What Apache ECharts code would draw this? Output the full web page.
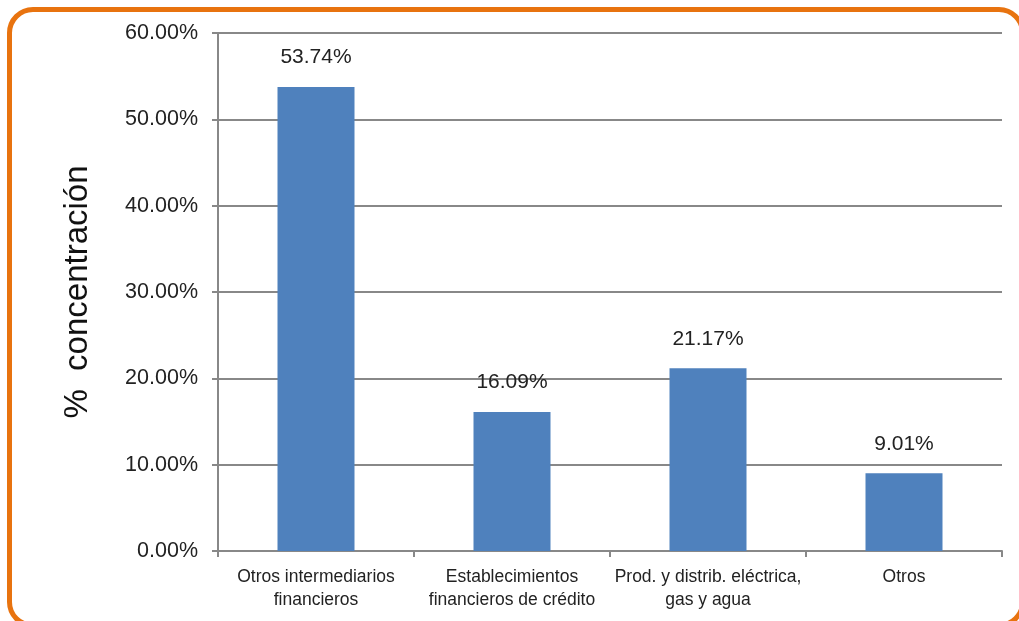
<!DOCTYPE html>
<html>
<head>
<meta charset="utf-8">
<script src="https://cdn.jsdelivr.net/npm/echarts@6/dist/echarts.min.js"></script>
<style>
  html, body { margin: 0; padding: 0; background: #fff; overflow: hidden; }
  #frame { position: absolute; left: 7px; top: 7px; width: 1018px; height: 621px; border: 5px solid #E8730F; border-radius: 26px; box-sizing: border-box; }
  #chart { position: absolute; left: 0; top: 0; width: 1019px; height: 621px; }
</style>
</head>
<body>
<div id="frame"></div>
<div id="chart"></div>
<script>
const categories = ["Otros intermediarios\nfinancieros", "Establecimientos\nfinancieros de crédito", "Prod. y distrib. eléctrica,\ngas y agua", "Otros"];
const values = [53.74, 16.09, 21.17, 9.01];
const yTicks = [0, 10, 20, 30, 40, 50, 60];
const yTitle = "%  concentración";

const chart = echarts.init(document.getElementById('chart'));
const font = "'Liberation Sans', Arial, sans-serif";
chart.setOption({
  animation: false,
  grid: { left: 218, right: 17, top: 33, bottom: 70, containLabel: false },
  xAxis: {
    type: 'category',
    data: categories,
    axisLine: { lineStyle: { color: '#888', width: 2 } },
    axisTick: { show: true, length: 6, alignWithLabel: false, lineStyle: { color: '#888', width: 2 } },
    axisLabel: { color: '#222', fontSize: 17.5, fontFamily: font, lineHeight: 23, margin: 15, interval: 0 }
  },
  yAxis: {
    type: 'value',
    min: yTicks[0], max: yTicks[yTicks.length - 1], interval: 10,
    name: yTitle,
    nameLocation: 'middle',
    nameRotate: 90,
    nameGap: 124,
    nameTextStyle: { fontSize: 33, color: '#111', fontFamily: font },
    axisLine: { show: true, lineStyle: { color: '#888', width: 2 } },
    axisTick: { show: true, length: 6, lineStyle: { color: '#888', width: 2 } },
    splitLine: { lineStyle: { color: '#888', width: 2 } },
    axisLabel: { color: '#222', fontSize: 21.5, fontFamily: font, margin: 20, formatter: v => v.toFixed(2) + '%' }
  },
  series: [{
    type: 'bar',
    data: values,
    barWidth: 77,
    itemStyle: { color: '#4F81BD' },
    label: { show: true, position: 'top', distance: 19, color: '#222', fontSize: 21, fontFamily: font, formatter: p => p.value.toFixed(2) + '%' }
  }]
});
</script>
</body>
</html>
